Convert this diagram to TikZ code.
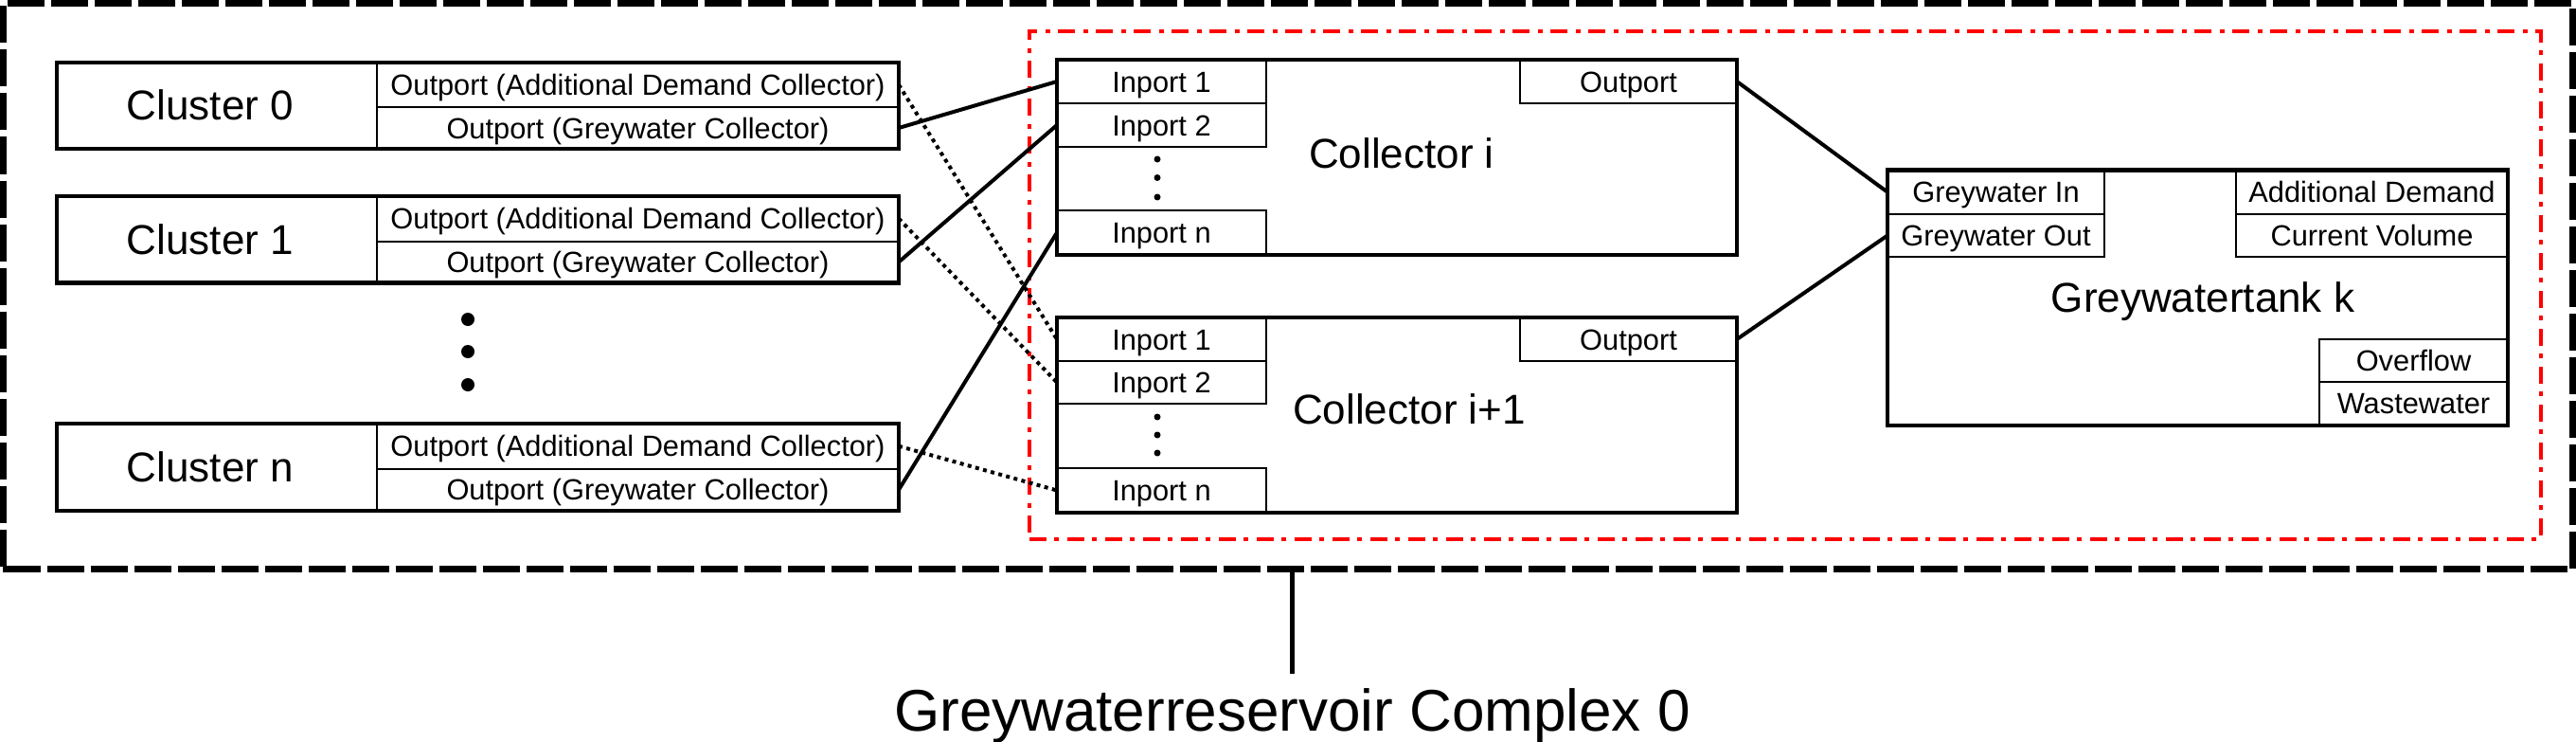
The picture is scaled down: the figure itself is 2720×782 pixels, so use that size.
\documentclass[tikz,border=0pt]{standalone}
\usepackage{fontspec}
\setmainfont{Liberation Sans}
\newcommand\mkbox[7]{\node[#1,anchor=north west,minimum width={(#4-#2)*0.25pt},minimum height={(#5-#3)*0.25pt}] (#6) at (#2,#3) {#7};}
\tikzset{
  mainbox/.style={draw, line width=1.05pt, inner sep=0pt, outer sep=0pt},
  portbox/.style={draw, line width=0.5pt, inner sep=0pt, outer sep=0pt,
    font=\fontsize{7.7pt}{9pt}\selectfont, text height=6.5pt, text depth=1pt},
  biglabel/.style={font=\fontsize{11pt}{13pt}\selectfont, inner sep=0pt},
  titlelabel/.style={font=\fontsize{15.5pt}{18pt}\selectfont, inner xsep=0pt, inner ysep=3.85pt},
  wire/.style={line width=1pt},
  dotwire/.style={line width=1pt, dash pattern=on 1pt off 1.1pt},
  stemline/.style={line width=1.4pt},
  outerframe/.style={draw, line width=1.75pt, dash pattern=on 9.75pt off 1.75pt, inner sep=0pt, outer sep=0pt},
  redframe/.style={draw=red, line width=1pt, dash pattern=on 4.4pt off 2.2pt on 1.2pt off 2.2pt, inner sep=0pt, outer sep=0pt},
  bigdot/.style={circle, fill, inner sep=0pt, minimum size=3.5pt},
  smalldot/.style={circle, fill, inner sep=0pt, minimum size=1.75pt},
}
\begin{document}
\begin{tikzpicture}[x=0.25pt,y=-0.25pt]
\useasboundingbox (0,0) rectangle (2720,782);
% frames
\mkbox{outerframe}{3.5}{3.5}{2716.5}{600.5}{outer}{}
\mkbox{redframe}{1087}{32.5}{2683}{568.5}{group}{}

% Cluster 0
\mkbox{portbox}{398}{66}{949}{113}{c0a}{Outport (Additional Demand Collector)}
\mkbox{portbox}{398}{113}{949}{157}{c0g}{Outport (Greywater Collector)}
\mkbox{mainbox}{60}{66}{949}{157}{c0}{}
\node[biglabel, anchor=base] (c0l) at (222,126.5) {Cluster 0};
% Cluster 1
\mkbox{portbox}{398}{207}{949}{254.5}{c1a}{Outport (Additional Demand Collector)}
\mkbox{portbox}{398}{254.5}{949}{298.5}{c1g}{Outport (Greywater Collector)}
\mkbox{mainbox}{60}{207}{949}{298.5}{c1}{}
\node[biglabel, anchor=base] (c1l) at (222,268.5) {Cluster 1};
% dots
\node[bigdot] (cd1) at (494,337) {};
\node[bigdot] (cd2) at (494,371) {};
\node[bigdot] (cd3) at (494,406) {};
% Cluster n
\mkbox{portbox}{398}{447}{949}{494.5}{cna}{Outport (Additional Demand Collector)}
\mkbox{portbox}{398}{494.5}{949}{539}{cng}{Outport (Greywater Collector)}
\mkbox{mainbox}{60}{447}{949}{539}{cn}{}
\node[biglabel, anchor=base] (cnl) at (222,508.5) {Cluster n};

% Collector i
\mkbox{portbox}{1116}{63}{1337}{109}{ci1}{Inport 1}
\mkbox{portbox}{1116}{109}{1337}{155}{ci2}{Inport 2}
\mkbox{portbox}{1116}{222}{1337}{269}{cin}{Inport n}
\mkbox{portbox}{1605}{63}{1834}{109}{cio}{Outport}
\mkbox{mainbox}{1116}{63}{1834}{269}{ci}{}
\node[biglabel, anchor=base] (cil) at (1480,177) {Collector i};
\node[smalldot] (cid1) at (1222,168) {};
\node[smalldot] (cid2) at (1222,187.5) {};
\node[smalldot] (cid3) at (1222,208) {};

% Collector i+1
\mkbox{portbox}{1116}{335}{1337}{381}{cj1}{Inport 1}
\mkbox{portbox}{1116}{381}{1337}{426}{cj2}{Inport 2}
\mkbox{portbox}{1116}{494}{1337}{541}{cjn}{Inport n}
\mkbox{portbox}{1605}{335}{1834}{381}{cjo}{Outport}
\mkbox{mainbox}{1116}{335}{1834}{541}{cj}{}
\node[biglabel, anchor=base] (cjl) at (1488,447) {Collector i+1};
\node[smalldot] (cjd1) at (1222,440) {};
\node[smalldot] (cjd2) at (1222,459) {};
\node[smalldot] (cjd3) at (1222,478) {};

% Greywatertank k
\mkbox{portbox}{1993}{179.5}{2222}{226}{tgi}{Greywater In}
\mkbox{portbox}{1993}{226}{2222}{271}{tgo}{Greywater Out}
\mkbox{portbox}{2361}{179.5}{2648}{226}{tad}{Additional Demand}
\mkbox{portbox}{2361}{226}{2648}{271}{tcv}{Current Volume}
\mkbox{portbox}{2449}{357.6}{2648}{402.5}{tov}{Overflow}
\mkbox{portbox}{2449}{402.5}{2648}{449}{tww}{Wastewater}
\mkbox{mainbox}{1993}{179.5}{2648}{449}{tank}{}
\node[biglabel, anchor=base] (tankl) at (2326,329) {Greywatertank k};

% connectors
\draw[wire] (c0g.east) -- (ci1.west);
\draw[wire] (c1g.east) -- (ci2.west);
\draw[wire] (cng.east) -- (cin.west);
\draw[dotwire] (c0a.east) -- (cj1.west);
\draw[dotwire] (c1a.east) -- (cj2.west);
\draw[dotwire] (cna.east) -- (cjn.west);
\draw[wire] (cio.east) -- (tgi.west);
\draw[wire] (cjo.east) -- (tgo.west);

% title
\node[titlelabel, anchor=base] (title) at (1364.5,771.7) {Greywaterreservoir Complex 0};
\draw[stemline] (title.north |- outer.south) -- (title.north);
\end{tikzpicture}
\end{document}
